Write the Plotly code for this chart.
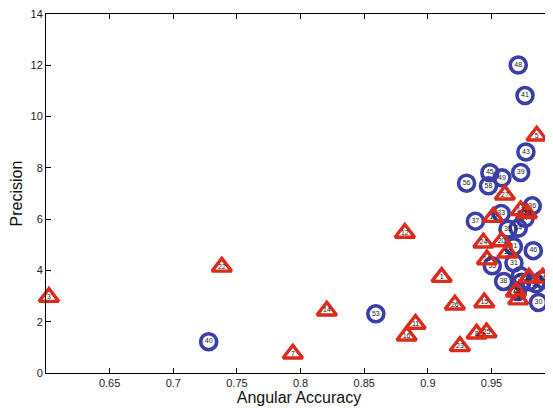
import plotly.graph_objects as go

# Blue circles
circle_labels = ["40", "53", "48", "41", "43", "39", "45", "49", "56", "58", "36", "33", "57", "37",
                 "35", "34", "51", "46", "55", "31", "47", "38", "52", "54", "50", "32", "44", "30"]
circle_x = [0.7278, 0.8591, 0.9710, 0.9763, 0.9770, 0.9729, 0.9487, 0.9582, 0.9304, 0.9476, 0.9820, 0.9576, 0.9763, 0.9373,
            0.9629, 0.9710, 0.9672, 0.9828, 0.9506, 0.9676, 0.9727, 0.9595, 0.9737, 0.9796, 0.9849, 0.9902, 0.9704, 0.9869]
circle_y = [1.22, 2.31, 12.01, 10.82, 8.62, 7.82, 7.81, 7.61, 7.40, 7.30, 6.52, 6.22, 6.03, 5.92,
            5.61, 5.65, 4.93, 4.77, 4.18, 4.29, 3.79, 3.57, 3.54, 3.56, 3.48, 3.64, 3.18, 2.75]

# Red triangles
tri_labels = ["3", "22", "7", "14", "12", "16", "11", "1", "26", "23", "8", "25", "15", "24",
              "10", "20", "18", "27", "19", "17", "29", "5", "2", "21", "13", "9"]
tri_x = [0.6023, 0.7381, 0.7939, 0.8206, 0.8819, 0.8833, 0.8903, 0.9108, 0.9212, 0.9252, 0.9383, 0.9461, 0.9443, 0.9436,
         0.9464, 0.9579, 0.9625, 0.9605, 0.9513, 0.9729, 0.9778, 0.9855, 0.9794, 0.9902, 0.9692, 0.9710]
tri_y = [2.96, 4.14, 0.75, 2.43, 5.46, 1.45, 1.91, 3.74, 2.66, 1.04, 1.53, 1.58, 2.75, 5.08,
         4.42, 5.13, 4.69, 6.95, 6.08, 6.34, 6.23, 9.25, 3.71, 3.71, 3.17, 2.86]

x_ticks = [0.65, 0.7, 0.75, 0.8, 0.85, 0.9, 0.95]
x_tick_text = ["0.65", "0.7", "0.75", "0.8", "0.85", "0.9", "0.95"]
y_ticks = [0, 2, 4, 6, 8, 10, 12, 14]

BLUE = "#3b3ea6"
RED = "#dc2a1c"

fig = go.Figure()
fig.add_trace(go.Scatter(
    x=circle_x, y=circle_y, mode="markers+text", text=circle_labels,
    textposition="middle center",
    textfont=dict(size=7, color="#222", family="Liberation Sans"),
    marker=dict(symbol="circle-open", size=16, color=BLUE, line=dict(width=3.6, color=BLUE)),
    hoverinfo="skip", showlegend=False, cliponaxis=False,
))
fig.add_trace(go.Scatter(
    x=tri_x, y=tri_y, mode="markers+text", text=tri_labels,
    textposition="middle center",
    textfont=dict(size=7, color="#222", family="Liberation Sans"),
    marker=dict(symbol="triangle-up-open", size=17, color=RED, line=dict(width=3.4, color=RED)),
    hoverinfo="skip", showlegend=False, cliponaxis=False,
))

axis_common = dict(
    showline=True, linecolor="black", linewidth=1, mirror="ticks",
    ticks="inside", ticklen=5, tickcolor="black", tickwidth=1,
    showgrid=False, zeroline=False, automargin=False,
    ticklabeloverflow="allow",
    tickfont=dict(family="Liberation Sans", size=11, color="#222"),
)

fig.update_layout(
    template="none",
    width=545, height=400,
    margin=dict(l=38, r=1, t=6, b=35, autoexpand=False),
    paper_bgcolor="white", plot_bgcolor="white",
    xaxis=dict(range=[0.6, 0.9975], tickvals=x_ticks, ticktext=x_tick_text,
               title=dict(text="Angular Accuracy", standoff=2,
                          font=dict(family="Liberation Sans", size=16, color="#111")),
               **axis_common),
    yaxis=dict(range=[0, 14], tickvals=y_ticks,
               title=dict(text="Precision", standoff=8,
                          font=dict(family="Liberation Sans", size=16, color="#111")),
               **axis_common),
)

fig.write_html("out.html")
